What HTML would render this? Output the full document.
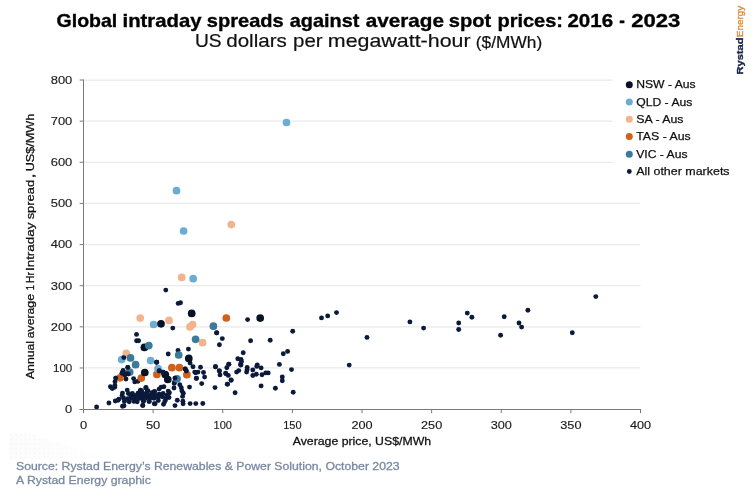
<!DOCTYPE html>
<html><head><meta charset="utf-8"><title>Global intraday spreads</title>
<style>
html,body{margin:0;padding:0;background:#fff;}
body{width:754px;height:491px;overflow:hidden;font-family:"Liberation Sans",sans-serif;}
svg{display:block;will-change:transform;opacity:0.999;}
text{font-family:"Liberation Sans",sans-serif;}
.tk{font-size:11.4px;fill:#1c1c1c;stroke:#1c1c1c;stroke-width:0.15px;}
.ax{font-size:11.7px;fill:#111;stroke:#111;stroke-width:0.28px;}
.lg{font-size:11.8px;fill:#111;stroke:#111;stroke-width:0.25px;}
.ti{font-size:18.6px;font-weight:bold;fill:#000;stroke:#000;stroke-width:0.35px;}
.st{font-size:18.6px;fill:#111;stroke:#111;stroke-width:0.2px;}
.st2{font-size:15.7px;fill:#111;stroke:#111;stroke-width:0.2px;}
.lgR{font-size:9.9px;font-weight:bold;fill:#17264a;stroke:#17264a;stroke-width:0.35px;}
.lgE{font-size:9.9px;fill:#dc8a3a;stroke:#dc8a3a;stroke-width:0.35px;}
.ft{font-size:11.6px;fill:#7988a2;stroke:#7988a2;stroke-width:0.3px;}
</style></head>
<body>
<svg width="754" height="491" viewBox="0 0 754 491">
<line x1="84" y1="367.96" x2="640.5" y2="367.96" stroke="#eaeaea" stroke-width="1.25"/>
<line x1="84" y1="326.83" x2="640.5" y2="326.83" stroke="#eaeaea" stroke-width="1.25"/>
<line x1="84" y1="285.69" x2="640.5" y2="285.69" stroke="#eaeaea" stroke-width="1.25"/>
<line x1="84" y1="244.55" x2="640.5" y2="244.55" stroke="#eaeaea" stroke-width="1.25"/>
<line x1="84" y1="203.41" x2="640.5" y2="203.41" stroke="#eaeaea" stroke-width="1.25"/>
<line x1="84" y1="162.28" x2="612.5" y2="162.28" stroke="#eaeaea" stroke-width="1.25"/>
<line x1="84" y1="121.14" x2="612.5" y2="121.14" stroke="#eaeaea" stroke-width="1.25"/>
<line x1="84" y1="80.00" x2="612.5" y2="80.00" stroke="#eaeaea" stroke-width="1.25"/>
<g><circle cx="409.9" cy="321.9" r="2.45" fill="#0b1a3b"/><circle cx="423.6" cy="328.1" r="2.45" fill="#0b1a3b"/><circle cx="458.7" cy="323.0" r="2.45" fill="#0b1a3b"/><circle cx="458.7" cy="329.5" r="2.45" fill="#0b1a3b"/><circle cx="467.3" cy="313.1" r="2.45" fill="#0b1a3b"/><circle cx="471.9" cy="317.2" r="2.45" fill="#0b1a3b"/><circle cx="504.2" cy="316.8" r="2.45" fill="#0b1a3b"/><circle cx="500.6" cy="335.2" r="2.45" fill="#0b1a3b"/><circle cx="519.0" cy="323.0" r="2.45" fill="#0b1a3b"/><circle cx="521.6" cy="327.1" r="2.45" fill="#0b1a3b"/><circle cx="527.9" cy="310.2" r="2.45" fill="#0b1a3b"/><circle cx="572.3" cy="332.8" r="2.45" fill="#0b1a3b"/><circle cx="595.8" cy="296.6" r="2.45" fill="#0b1a3b"/><circle cx="292.7" cy="331.2" r="2.45" fill="#0b1a3b"/><circle cx="321.5" cy="317.9" r="2.45" fill="#0b1a3b"/><circle cx="327.7" cy="315.9" r="2.45" fill="#0b1a3b"/><circle cx="336.5" cy="312.6" r="2.45" fill="#0b1a3b"/><circle cx="367.0" cy="337.4" r="2.45" fill="#0b1a3b"/><circle cx="349.2" cy="365.1" r="2.45" fill="#0b1a3b"/><circle cx="216.6" cy="332.9" r="2.45" fill="#0b1a3b"/><circle cx="222.3" cy="338.6" r="2.45" fill="#0b1a3b"/><circle cx="219.4" cy="344.8" r="2.45" fill="#0b1a3b"/><circle cx="250.6" cy="340.8" r="2.45" fill="#0b1a3b"/><circle cx="270.2" cy="340.3" r="2.45" fill="#0b1a3b"/><circle cx="243.2" cy="352.8" r="2.45" fill="#0b1a3b"/><circle cx="283.3" cy="353.7" r="2.45" fill="#0b1a3b"/><circle cx="287.6" cy="351.4" r="2.45" fill="#0b1a3b"/><circle cx="237.8" cy="358.7" r="2.45" fill="#0b1a3b"/><circle cx="241.0" cy="359.4" r="2.45" fill="#0b1a3b"/><circle cx="228.7" cy="364.3" r="2.45" fill="#0b1a3b"/><circle cx="240.6" cy="364.1" r="2.45" fill="#0b1a3b"/><circle cx="240.7" cy="365.1" r="2.45" fill="#0b1a3b"/><circle cx="257.3" cy="364.9" r="2.45" fill="#0b1a3b"/><circle cx="256.8" cy="366.4" r="2.45" fill="#0b1a3b"/><circle cx="279.4" cy="364.4" r="2.45" fill="#0b1a3b"/><circle cx="215.5" cy="366.8" r="2.45" fill="#0b1a3b"/><circle cx="226.8" cy="367.7" r="2.45" fill="#0b1a3b"/><circle cx="247.2" cy="367.5" r="2.45" fill="#0b1a3b"/><circle cx="261.1" cy="367.9" r="2.45" fill="#0b1a3b"/><circle cx="291.5" cy="369.6" r="2.45" fill="#0b1a3b"/><circle cx="219.5" cy="371.1" r="2.45" fill="#0b1a3b"/><circle cx="238.7" cy="370.6" r="2.45" fill="#0b1a3b"/><circle cx="236.6" cy="372.1" r="2.45" fill="#0b1a3b"/><circle cx="247.1" cy="369.8" r="2.45" fill="#0b1a3b"/><circle cx="252.8" cy="370.0" r="2.45" fill="#0b1a3b"/><circle cx="246.6" cy="372.1" r="2.45" fill="#0b1a3b"/><circle cx="220.0" cy="374.9" r="2.45" fill="#0b1a3b"/><circle cx="226.0" cy="373.8" r="2.45" fill="#0b1a3b"/><circle cx="228.3" cy="375.4" r="2.45" fill="#0b1a3b"/><circle cx="256.3" cy="374.2" r="2.45" fill="#0b1a3b"/><circle cx="252.8" cy="375.5" r="2.45" fill="#0b1a3b"/><circle cx="262.0" cy="374.8" r="2.45" fill="#0b1a3b"/><circle cx="265.7" cy="372.9" r="2.45" fill="#0b1a3b"/><circle cx="268.2" cy="372.9" r="2.45" fill="#0b1a3b"/><circle cx="282.3" cy="377.0" r="2.45" fill="#0b1a3b"/><circle cx="231.1" cy="380.0" r="2.45" fill="#0b1a3b"/><circle cx="282.3" cy="380.8" r="2.45" fill="#0b1a3b"/><circle cx="227.3" cy="384.2" r="2.45" fill="#0b1a3b"/><circle cx="261.1" cy="385.9" r="2.45" fill="#0b1a3b"/><circle cx="275.4" cy="388.2" r="2.45" fill="#0b1a3b"/><circle cx="235.1" cy="392.7" r="2.45" fill="#0b1a3b"/><circle cx="293.2" cy="392.2" r="2.45" fill="#0b1a3b"/><circle cx="247.6" cy="319.6" r="2.45" fill="#0b1a3b"/><circle cx="156.6" cy="362.2" r="2.45" fill="#0b1a3b"/><circle cx="159.1" cy="370.9" r="2.45" fill="#0b1a3b"/><circle cx="163.0" cy="372.3" r="2.45" fill="#0b1a3b"/><circle cx="185.2" cy="369.0" r="2.45" fill="#0b1a3b"/><circle cx="186.3" cy="371.0" r="2.45" fill="#0b1a3b"/><circle cx="190.1" cy="363.1" r="2.45" fill="#0b1a3b"/><circle cx="193.0" cy="366.8" r="2.45" fill="#0b1a3b"/><circle cx="200.5" cy="367.2" r="2.45" fill="#0b1a3b"/><circle cx="194.7" cy="372.1" r="2.45" fill="#0b1a3b"/><circle cx="198.0" cy="372.1" r="2.45" fill="#0b1a3b"/><circle cx="203.5" cy="372.5" r="2.45" fill="#0b1a3b"/><circle cx="196.5" cy="378.3" r="2.45" fill="#0b1a3b"/><circle cx="204.6" cy="377.1" r="2.45" fill="#0b1a3b"/><circle cx="201.7" cy="383.6" r="2.45" fill="#0b1a3b"/><circle cx="189.5" cy="387.1" r="2.45" fill="#0b1a3b"/><circle cx="175.0" cy="378.1" r="2.45" fill="#0b1a3b"/><circle cx="174.6" cy="382.0" r="2.45" fill="#0b1a3b"/><circle cx="174.2" cy="383.4" r="2.45" fill="#0b1a3b"/><circle cx="179.8" cy="384.8" r="2.45" fill="#0b1a3b"/><circle cx="181.3" cy="387.7" r="2.45" fill="#0b1a3b"/><circle cx="174.0" cy="388.0" r="2.45" fill="#0b1a3b"/><circle cx="181.9" cy="390.9" r="2.45" fill="#0b1a3b"/><circle cx="183.3" cy="393.2" r="2.45" fill="#0b1a3b"/><circle cx="182.6" cy="396.4" r="2.45" fill="#0b1a3b"/><circle cx="177.3" cy="400.2" r="2.45" fill="#0b1a3b"/><circle cx="182.9" cy="401.3" r="2.45" fill="#0b1a3b"/><circle cx="183.1" cy="403.7" r="2.45" fill="#0b1a3b"/><circle cx="190.1" cy="403.6" r="2.45" fill="#0b1a3b"/><circle cx="195.8" cy="403.6" r="2.45" fill="#0b1a3b"/><circle cx="202.8" cy="403.5" r="2.45" fill="#0b1a3b"/><circle cx="175.0" cy="405.6" r="2.45" fill="#0b1a3b"/><circle cx="215.5" cy="366.8" r="2.45" fill="#0b1a3b"/><circle cx="228.9" cy="364.3" r="2.45" fill="#0b1a3b"/><circle cx="219.2" cy="370.8" r="2.45" fill="#0b1a3b"/><circle cx="225.6" cy="373.3" r="2.45" fill="#0b1a3b"/><circle cx="231.2" cy="380.2" r="2.45" fill="#0b1a3b"/><circle cx="227.6" cy="384.1" r="2.45" fill="#0b1a3b"/><circle cx="215.0" cy="387.6" r="2.45" fill="#0b1a3b"/><circle cx="241.0" cy="364.7" r="2.45" fill="#0b1a3b"/><circle cx="241.5" cy="361.4" r="2.45" fill="#0b1a3b"/><circle cx="196.3" cy="378.4" r="2.45" fill="#0b1a3b"/><circle cx="195.7" cy="372.8" r="2.45" fill="#0b1a3b"/><circle cx="136.5" cy="334.4" r="2.45" fill="#0b1a3b"/><circle cx="136.6" cy="340.8" r="2.45" fill="#0b1a3b"/><circle cx="138.6" cy="340.8" r="2.45" fill="#0b1a3b"/><circle cx="123.8" cy="357.6" r="2.45" fill="#0b1a3b"/><circle cx="156.7" cy="362.1" r="2.45" fill="#0b1a3b"/><circle cx="127.8" cy="367.4" r="2.45" fill="#0b1a3b"/><circle cx="123.1" cy="370.7" r="2.45" fill="#0b1a3b"/><circle cx="128.3" cy="373.9" r="2.45" fill="#0b1a3b"/><circle cx="124.8" cy="374.8" r="2.45" fill="#0b1a3b"/><circle cx="159.2" cy="370.8" r="2.45" fill="#0b1a3b"/><circle cx="162.9" cy="372.2" r="2.45" fill="#0b1a3b"/><circle cx="178.2" cy="303.4" r="2.45" fill="#0b1a3b"/><circle cx="180.5" cy="302.8" r="2.45" fill="#0b1a3b"/><circle cx="172.8" cy="328.1" r="2.45" fill="#0b1a3b"/><circle cx="216.7" cy="332.8" r="2.45" fill="#0b1a3b"/><circle cx="165.8" cy="290.1" r="2.45" fill="#0b1a3b"/><circle cx="188.4" cy="349.1" r="2.45" fill="#0b1a3b"/><circle cx="178.0" cy="350.5" r="2.45" fill="#0b1a3b"/><circle cx="168.2" cy="354.0" r="2.45" fill="#0b1a3b"/><circle cx="96.6" cy="407.0" r="2.45" fill="#0b1a3b"/><circle cx="108.9" cy="403.0" r="2.45" fill="#0b1a3b"/><circle cx="115.3" cy="401.0" r="2.45" fill="#0b1a3b"/><circle cx="118.1" cy="400.2" r="2.45" fill="#0b1a3b"/><circle cx="122.5" cy="406.2" r="2.45" fill="#0b1a3b"/><circle cx="124.0" cy="405.8" r="2.45" fill="#0b1a3b"/><circle cx="142.7" cy="405.4" r="2.45" fill="#0b1a3b"/><circle cx="154.3" cy="403.8" r="2.45" fill="#0b1a3b"/><circle cx="110.4" cy="386.7" r="2.45" fill="#0b1a3b"/><circle cx="112.3" cy="388.6" r="2.45" fill="#0b1a3b"/><circle cx="114.7" cy="387.3" r="2.45" fill="#0b1a3b"/><circle cx="114.9" cy="385.5" r="2.45" fill="#0b1a3b"/><circle cx="115.0" cy="381.7" r="2.45" fill="#0b1a3b"/><circle cx="115.8" cy="378.1" r="2.45" fill="#0b1a3b"/><circle cx="126.0" cy="379.0" r="2.45" fill="#0b1a3b"/><circle cx="122.1" cy="373.2" r="2.45" fill="#0b1a3b"/><circle cx="126.8" cy="373.6" r="2.45" fill="#0b1a3b"/><circle cx="133.6" cy="378.6" r="2.45" fill="#0b1a3b"/><circle cx="134.8" cy="381.9" r="2.45" fill="#0b1a3b"/><circle cx="138.0" cy="381.2" r="2.45" fill="#0b1a3b"/><circle cx="127.2" cy="390.1" r="2.45" fill="#0b1a3b"/><circle cx="140.4" cy="390.3" r="2.45" fill="#0b1a3b"/><circle cx="147.9" cy="390.7" r="2.45" fill="#0b1a3b"/><circle cx="145.8" cy="387.9" r="2.45" fill="#0b1a3b"/><circle cx="122.5" cy="393.1" r="2.45" fill="#0b1a3b"/><circle cx="128.4" cy="393.5" r="2.45" fill="#0b1a3b"/><circle cx="132.4" cy="393.5" r="2.45" fill="#0b1a3b"/><circle cx="138.0" cy="393.1" r="2.45" fill="#0b1a3b"/><circle cx="141.9" cy="393.1" r="2.45" fill="#0b1a3b"/><circle cx="145.9" cy="393.5" r="2.45" fill="#0b1a3b"/><circle cx="153.9" cy="391.9" r="2.45" fill="#0b1a3b"/><circle cx="122.1" cy="395.5" r="2.45" fill="#0b1a3b"/><circle cx="130.8" cy="395.9" r="2.45" fill="#0b1a3b"/><circle cx="134.8" cy="395.5" r="2.45" fill="#0b1a3b"/><circle cx="138.8" cy="395.9" r="2.45" fill="#0b1a3b"/><circle cx="143.5" cy="395.9" r="2.45" fill="#0b1a3b"/><circle cx="147.5" cy="395.5" r="2.45" fill="#0b1a3b"/><circle cx="152.3" cy="395.9" r="2.45" fill="#0b1a3b"/><circle cx="118.9" cy="399.1" r="2.45" fill="#0b1a3b"/><circle cx="123.6" cy="398.3" r="2.45" fill="#0b1a3b"/><circle cx="127.6" cy="398.7" r="2.45" fill="#0b1a3b"/><circle cx="131.6" cy="398.3" r="2.45" fill="#0b1a3b"/><circle cx="135.6" cy="398.7" r="2.45" fill="#0b1a3b"/><circle cx="139.6" cy="398.3" r="2.45" fill="#0b1a3b"/><circle cx="144.3" cy="398.7" r="2.45" fill="#0b1a3b"/><circle cx="149.9" cy="398.3" r="2.45" fill="#0b1a3b"/><circle cx="153.9" cy="398.3" r="2.45" fill="#0b1a3b"/><circle cx="124.4" cy="401.4" r="2.45" fill="#0b1a3b"/><circle cx="129.2" cy="401.8" r="2.45" fill="#0b1a3b"/><circle cx="134.0" cy="401.4" r="2.45" fill="#0b1a3b"/><circle cx="137.2" cy="401.8" r="2.45" fill="#0b1a3b"/><circle cx="143.5" cy="401.4" r="2.45" fill="#0b1a3b"/><circle cx="149.1" cy="401.4" r="2.45" fill="#0b1a3b"/><circle cx="146.0" cy="387.5" r="2.45" fill="#0b1a3b"/><circle cx="141.6" cy="390.7" r="2.45" fill="#0b1a3b"/><circle cx="147.2" cy="391.1" r="2.45" fill="#0b1a3b"/><circle cx="161.1" cy="387.1" r="2.45" fill="#0b1a3b"/><circle cx="163.9" cy="386.7" r="2.45" fill="#0b1a3b"/><circle cx="159.1" cy="389.1" r="2.45" fill="#0b1a3b"/><circle cx="168.2" cy="391.1" r="2.45" fill="#0b1a3b"/><circle cx="169.4" cy="392.7" r="2.45" fill="#0b1a3b"/><circle cx="154.7" cy="391.5" r="2.45" fill="#0b1a3b"/><circle cx="151.9" cy="392.7" r="2.45" fill="#0b1a3b"/><circle cx="142.4" cy="394.3" r="2.45" fill="#0b1a3b"/><circle cx="146.4" cy="394.3" r="2.45" fill="#0b1a3b"/><circle cx="150.3" cy="395.1" r="2.45" fill="#0b1a3b"/><circle cx="155.1" cy="395.1" r="2.45" fill="#0b1a3b"/><circle cx="159.1" cy="394.3" r="2.45" fill="#0b1a3b"/><circle cx="163.1" cy="393.5" r="2.45" fill="#0b1a3b"/><circle cx="167.1" cy="395.1" r="2.45" fill="#0b1a3b"/><circle cx="141.6" cy="397.5" r="2.45" fill="#0b1a3b"/><circle cx="145.6" cy="398.3" r="2.45" fill="#0b1a3b"/><circle cx="154.3" cy="397.5" r="2.45" fill="#0b1a3b"/><circle cx="158.3" cy="397.5" r="2.45" fill="#0b1a3b"/><circle cx="162.3" cy="396.7" r="2.45" fill="#0b1a3b"/><circle cx="166.3" cy="397.5" r="2.45" fill="#0b1a3b"/><circle cx="169.0" cy="397.5" r="2.45" fill="#0b1a3b"/><circle cx="143.2" cy="400.6" r="2.45" fill="#0b1a3b"/><circle cx="149.2" cy="401.4" r="2.45" fill="#0b1a3b"/><circle cx="158.3" cy="400.6" r="2.45" fill="#0b1a3b"/><circle cx="165.5" cy="399.9" r="2.45" fill="#0b1a3b"/><circle cx="164.7" cy="401.8" r="2.45" fill="#0b1a3b"/><circle cx="142.8" cy="405.4" r="2.45" fill="#0b1a3b"/><circle cx="155.1" cy="403.8" r="2.45" fill="#0b1a3b"/><circle cx="163.5" cy="404.2" r="2.45" fill="#0b1a3b"/></g>
<g><circle cx="226.3" cy="318.0" r="3.85" fill="#d0601a"/><circle cx="171.9" cy="367.7" r="3.85" fill="#d0601a"/><circle cx="179.4" cy="367.7" r="3.85" fill="#d0601a"/><circle cx="186.9" cy="374.7" r="3.85" fill="#d0601a"/><circle cx="156.9" cy="374.4" r="3.85" fill="#d0601a"/><circle cx="141.3" cy="378.1" r="3.85" fill="#d0601a"/><circle cx="120.0" cy="377.8" r="3.85" fill="#d0601a"/></g>
<g><circle cx="231.3" cy="224.6" r="3.85" fill="#f3b38d"/><circle cx="181.7" cy="277.4" r="3.85" fill="#f3b38d"/><circle cx="140.2" cy="318.1" r="3.85" fill="#f3b38d"/><circle cx="169.0" cy="320.4" r="3.85" fill="#f3b38d"/><circle cx="190.0" cy="326.9" r="3.85" fill="#f3b38d"/><circle cx="192.6" cy="324.6" r="3.85" fill="#f3b38d"/><circle cx="202.6" cy="342.7" r="3.85" fill="#f3b38d"/><circle cx="126.3" cy="353.3" r="3.85" fill="#f3b38d"/></g>
<g><circle cx="286.5" cy="122.5" r="3.85" fill="#6aadd0"/><circle cx="176.5" cy="190.7" r="3.85" fill="#6aadd0"/><circle cx="183.6" cy="231.0" r="3.85" fill="#6aadd0"/><circle cx="193.2" cy="278.7" r="3.85" fill="#6aadd0"/><circle cx="153.6" cy="324.5" r="3.85" fill="#6aadd0"/><circle cx="121.7" cy="359.6" r="3.85" fill="#6aadd0"/><circle cx="150.6" cy="360.6" r="3.85" fill="#6aadd0"/><circle cx="158.0" cy="368.7" r="3.85" fill="#6aadd0"/></g>
<g><circle cx="260.2" cy="318.1" r="3.85" fill="#081226"/><circle cx="191.7" cy="313.4" r="3.85" fill="#081226"/><circle cx="161.0" cy="323.8" r="3.85" fill="#081226"/><circle cx="144.4" cy="347.4" r="3.85" fill="#081226"/><circle cx="188.8" cy="358.4" r="3.85" fill="#081226"/><circle cx="144.8" cy="372.5" r="3.85" fill="#081226"/><circle cx="165.3" cy="374.6" r="3.85" fill="#081226"/><circle cx="167.8" cy="379.5" r="3.85" fill="#081226"/></g>
<g><circle cx="213.4" cy="326.2" r="3.85" fill="#3b7a99"/><circle cx="195.6" cy="339.3" r="3.85" fill="#3b7a99"/><circle cx="148.8" cy="345.6" r="3.85" fill="#3b7a99"/><circle cx="130.5" cy="357.9" r="3.85" fill="#3b7a99"/><circle cx="135.6" cy="364.7" r="3.85" fill="#3b7a99"/><circle cx="178.7" cy="355.0" r="3.85" fill="#3b7a99"/><circle cx="129.7" cy="372.1" r="3.85" fill="#3b7a99"/><circle cx="177.0" cy="378.8" r="3.85" fill="#3b7a99"/></g>
<g><circle cx="123.8" cy="357.6" r="2.45" fill="#0b1a3b"/><circle cx="127.8" cy="367.4" r="2.45" fill="#0b1a3b"/><circle cx="123.1" cy="370.7" r="2.45" fill="#0b1a3b"/><circle cx="128.3" cy="373.9" r="2.45" fill="#0b1a3b"/><circle cx="124.8" cy="374.8" r="2.45" fill="#0b1a3b"/><circle cx="159.2" cy="370.8" r="2.45" fill="#0b1a3b"/><circle cx="162.9" cy="372.2" r="2.45" fill="#0b1a3b"/><circle cx="175.0" cy="378.1" r="2.45" fill="#0b1a3b"/><circle cx="185.2" cy="369.0" r="2.45" fill="#0b1a3b"/><circle cx="186.3" cy="371.0" r="2.45" fill="#0b1a3b"/><circle cx="115.8" cy="378.1" r="2.45" fill="#0b1a3b"/><circle cx="122.1" cy="373.2" r="2.45" fill="#0b1a3b"/><circle cx="126.8" cy="373.6" r="2.45" fill="#0b1a3b"/><circle cx="159.1" cy="370.9" r="2.45" fill="#0b1a3b"/><circle cx="156.6" cy="362.2" r="2.45" fill="#0b1a3b"/></g>
<line x1="83.5" y1="79.5" x2="83.5" y2="410.0" stroke="#7a7a7a" stroke-width="1"/>
<line x1="79.7" y1="409.5" x2="641.0" y2="409.5" stroke="#7a7a7a" stroke-width="1"/>
<line x1="79.7" y1="409.50" x2="83.5" y2="409.50" stroke="#7a7a7a" stroke-width="1"/>
<text x="72.3" y="413.40" text-anchor="end" class="tk" textLength="7.2" lengthAdjust="spacingAndGlyphs">0</text>
<line x1="79.7" y1="367.96" x2="83.5" y2="367.96" stroke="#7a7a7a" stroke-width="1"/>
<text x="72.3" y="371.86" text-anchor="end" class="tk" textLength="19.3" lengthAdjust="spacingAndGlyphs">100</text>
<line x1="79.7" y1="326.83" x2="83.5" y2="326.83" stroke="#7a7a7a" stroke-width="1"/>
<text x="72.3" y="330.73" text-anchor="end" class="tk" textLength="21.6" lengthAdjust="spacingAndGlyphs">200</text>
<line x1="79.7" y1="285.69" x2="83.5" y2="285.69" stroke="#7a7a7a" stroke-width="1"/>
<text x="72.3" y="289.59" text-anchor="end" class="tk" textLength="21.6" lengthAdjust="spacingAndGlyphs">300</text>
<line x1="79.7" y1="244.55" x2="83.5" y2="244.55" stroke="#7a7a7a" stroke-width="1"/>
<text x="72.3" y="248.45" text-anchor="end" class="tk" textLength="21.6" lengthAdjust="spacingAndGlyphs">400</text>
<line x1="79.7" y1="203.41" x2="83.5" y2="203.41" stroke="#7a7a7a" stroke-width="1"/>
<text x="72.3" y="207.31" text-anchor="end" class="tk" textLength="21.6" lengthAdjust="spacingAndGlyphs">500</text>
<line x1="79.7" y1="162.28" x2="83.5" y2="162.28" stroke="#7a7a7a" stroke-width="1"/>
<text x="72.3" y="166.18" text-anchor="end" class="tk" textLength="21.6" lengthAdjust="spacingAndGlyphs">600</text>
<line x1="79.7" y1="121.14" x2="83.5" y2="121.14" stroke="#7a7a7a" stroke-width="1"/>
<text x="72.3" y="125.04" text-anchor="end" class="tk" textLength="21.6" lengthAdjust="spacingAndGlyphs">700</text>
<line x1="79.7" y1="80.00" x2="83.5" y2="80.00" stroke="#7a7a7a" stroke-width="1"/>
<text x="72.3" y="83.90" text-anchor="end" class="tk" textLength="21.6" lengthAdjust="spacingAndGlyphs">800</text>
<line x1="83.50" y1="409.5" x2="83.50" y2="413.2" stroke="#7a7a7a" stroke-width="1"/>
<text x="83.50" y="429.2" text-anchor="middle" class="tk" textLength="7.2" lengthAdjust="spacingAndGlyphs">0</text>
<line x1="153.12" y1="409.5" x2="153.12" y2="413.2" stroke="#7a7a7a" stroke-width="1"/>
<text x="153.12" y="429.2" text-anchor="middle" class="tk" textLength="14.4" lengthAdjust="spacingAndGlyphs">50</text>
<line x1="222.75" y1="409.5" x2="222.75" y2="413.2" stroke="#7a7a7a" stroke-width="1"/>
<text x="222.75" y="429.2" text-anchor="middle" class="tk" textLength="18.4" lengthAdjust="spacingAndGlyphs">100</text>
<line x1="292.38" y1="409.5" x2="292.38" y2="413.2" stroke="#7a7a7a" stroke-width="1"/>
<text x="292.38" y="429.2" text-anchor="middle" class="tk" textLength="18.4" lengthAdjust="spacingAndGlyphs">150</text>
<line x1="362.00" y1="409.5" x2="362.00" y2="413.2" stroke="#7a7a7a" stroke-width="1"/>
<text x="362.00" y="429.2" text-anchor="middle" class="tk" textLength="21.2" lengthAdjust="spacingAndGlyphs">200</text>
<line x1="431.62" y1="409.5" x2="431.62" y2="413.2" stroke="#7a7a7a" stroke-width="1"/>
<text x="431.62" y="429.2" text-anchor="middle" class="tk" textLength="21.2" lengthAdjust="spacingAndGlyphs">250</text>
<line x1="501.25" y1="409.5" x2="501.25" y2="413.2" stroke="#7a7a7a" stroke-width="1"/>
<text x="501.25" y="429.2" text-anchor="middle" class="tk" textLength="21.2" lengthAdjust="spacingAndGlyphs">300</text>
<line x1="570.88" y1="409.5" x2="570.88" y2="413.2" stroke="#7a7a7a" stroke-width="1"/>
<text x="570.88" y="429.2" text-anchor="middle" class="tk" textLength="21.2" lengthAdjust="spacingAndGlyphs">350</text>
<line x1="640.50" y1="409.5" x2="640.50" y2="413.2" stroke="#7a7a7a" stroke-width="1"/>
<text x="640.50" y="429.2" text-anchor="middle" class="tk" textLength="21.2" lengthAdjust="spacingAndGlyphs">400</text>
<text x="361.9" y="444.5" text-anchor="middle" class="ax" textLength="138.4" lengthAdjust="spacingAndGlyphs">Average price, US$/MWh</text>
<circle cx="629.3" cy="84.7" r="3.5" fill="#081226"/>
<text x="636.2" y="88.4" class="lg" textLength="59.4" lengthAdjust="spacingAndGlyphs">NSW - Aus</text>
<circle cx="629.3" cy="101.9" r="3.5" fill="#6aadd0"/>
<text x="636.2" y="105.6" class="lg" textLength="56.2" lengthAdjust="spacingAndGlyphs">QLD - Aus</text>
<circle cx="629.3" cy="119.3" r="3.5" fill="#f3b38d"/>
<text x="636.2" y="123.0" class="lg" textLength="47.3" lengthAdjust="spacingAndGlyphs">SA - Aus</text>
<circle cx="629.3" cy="136.6" r="3.5" fill="#d0601a"/>
<text x="636.2" y="140.3" class="lg" textLength="54.5" lengthAdjust="spacingAndGlyphs">TAS - Aus</text>
<circle cx="629.3" cy="154.2" r="3.5" fill="#3b7a99"/>
<text x="636.2" y="157.9" class="lg" textLength="51.3" lengthAdjust="spacingAndGlyphs">VIC - Aus</text>
<circle cx="629.3" cy="171.5" r="2.4" fill="#0b1a3b"/>
<text x="636.2" y="175.2" class="lg" textLength="93.4" lengthAdjust="spacingAndGlyphs">All other markets</text>
<text x="56.52" y="26.6" class="ti" textLength="60.78" lengthAdjust="spacingAndGlyphs">Global</text><text x="122.54" y="26.6" class="ti" textLength="79.08" lengthAdjust="spacingAndGlyphs">intraday</text><text x="206.85" y="26.6" class="ti" textLength="76.93" lengthAdjust="spacingAndGlyphs">spreads</text><text x="289.74" y="26.6" class="ti" textLength="69.67" lengthAdjust="spacingAndGlyphs">against</text><text x="365.80" y="26.6" class="ti" textLength="78.16" lengthAdjust="spacingAndGlyphs">average</text><text x="448.79" y="26.6" class="ti" textLength="42.40" lengthAdjust="spacingAndGlyphs">spot</text><text x="497.42" y="26.6" class="ti" textLength="65.62" lengthAdjust="spacingAndGlyphs">prices:</text><text x="567.47" y="26.6" class="ti" textLength="45.60" lengthAdjust="spacingAndGlyphs">2016</text><text x="619.13" y="26.6" class="ti" textLength="5.63" lengthAdjust="spacingAndGlyphs">-</text><text x="631.24" y="26.6" class="ti" textLength="49.08" lengthAdjust="spacingAndGlyphs">2023</text>
<text x="195.00" y="47.3" class="st" textLength="26.62" lengthAdjust="spacingAndGlyphs">US</text><text x="226.24" y="47.3" class="st" textLength="60.63" lengthAdjust="spacingAndGlyphs">dollars</text><text x="293.07" y="47.3" class="st" textLength="29.60" lengthAdjust="spacingAndGlyphs">per</text><text x="327.86" y="47.3" class="st" textLength="142.70" lengthAdjust="spacingAndGlyphs">megawatt-hour</text>
<text x="475.83" y="47.5" class="st2" textLength="66.32" lengthAdjust="spacingAndGlyphs">($/MWh)</text>
<g transform="translate(34.4,378.7) rotate(-90)"><text x="-0.36" y="0" class="ax" textLength="38.06" lengthAdjust="spacingAndGlyphs">Annual</text><text x="40.46" y="0" class="ax" textLength="44.19" lengthAdjust="spacingAndGlyphs">average</text><text x="88.54" y="0" class="ax" textLength="5.30" lengthAdjust="spacingAndGlyphs">1</text><text x="95.70" y="0" class="ax" textLength="10.86" lengthAdjust="spacingAndGlyphs">Hr</text><text x="107.70" y="0" class="ax" textLength="48.39" lengthAdjust="spacingAndGlyphs">Intraday</text><text x="159.38" y="0" class="ax" textLength="39.42" lengthAdjust="spacingAndGlyphs">spread</text><text x="200.20" y="0" class="ax" textLength="5.21" lengthAdjust="spacingAndGlyphs">,</text><text x="207.36" y="0" class="ax" textLength="57.67" lengthAdjust="spacingAndGlyphs">US$/MWh</text></g>
<g transform="translate(743.1,74.5) rotate(-90)"><text x="0" y="0" class="lgR" textLength="37.0" lengthAdjust="spacingAndGlyphs">Rystad</text><text x="37.3" y="0" class="lgE" textLength="31.4" lengthAdjust="spacingAndGlyphs">Energy</text></g>
<defs><pattern id="dp" width="4.6" height="4.6" patternUnits="userSpaceOnUse"><circle cx="2.3" cy="2.3" r="0.8" fill="#f0f2f5"/></pattern><linearGradient id="fg" x1="0" x2="1" y1="0" y2="0"><stop offset="0" stop-color="#fff" stop-opacity="0"/><stop offset="1" stop-color="#fff" stop-opacity="0.85"/></linearGradient></defs>
<polygon points="9,434 32,434 106,459 9,459" fill="#fcfcfd"/>
<polygon points="9,434 32,434 106,459 9,459" fill="url(#dp)"/>
<polygon points="9,434 32,434 106,459 9,459" fill="url(#fg)"/>
<text x="16" y="470.3" class="ft" textLength="383.6" lengthAdjust="spacingAndGlyphs">Source: Rystad Energy’s Renewables &amp; Power Solution, October 2023</text>
<text x="16" y="483.8" class="ft" textLength="134.9" lengthAdjust="spacingAndGlyphs">A Rystad Energy graphic</text>
</svg>
</body></html>
